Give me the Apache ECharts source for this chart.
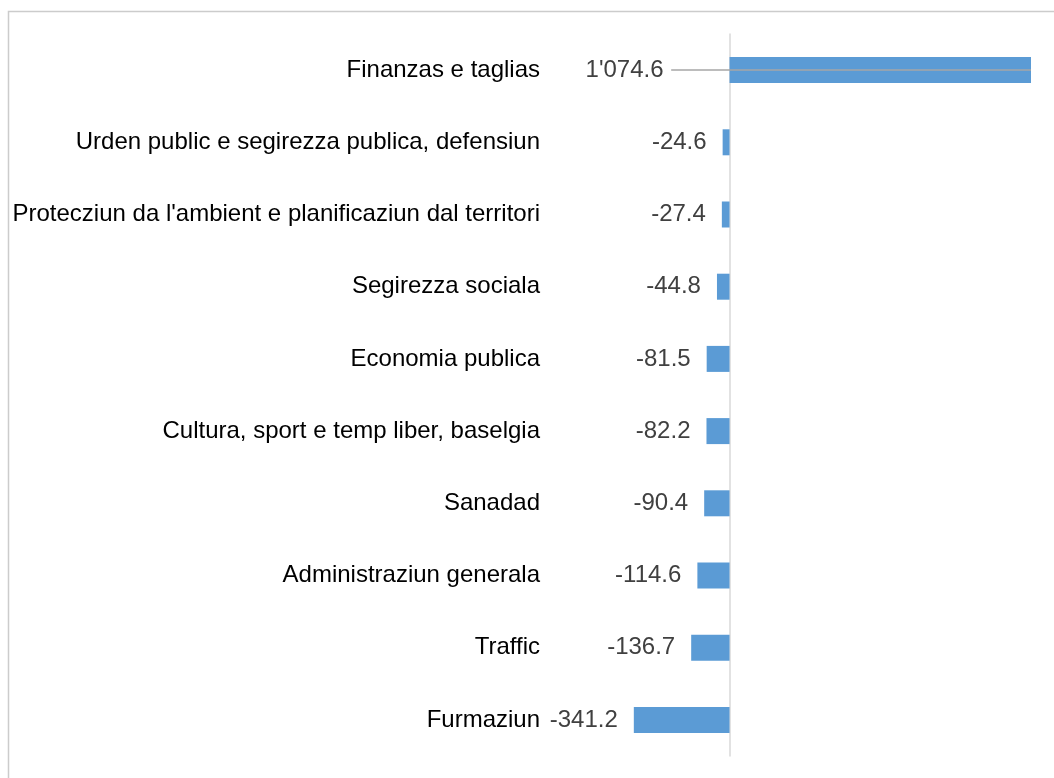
<!DOCTYPE html>
<html>
<head>
<meta charset="utf-8">
<script src="https://cdn.jsdelivr.net/npm/echarts@6/dist/echarts.min.js"></script>
<style>
html,body{margin:0;padding:0;background:#fff;}
#chart{width:1054px;height:778px;}
</style>
</head>
<body>
<div id="chart"></div>
<script>
const categories = [
  "Finanzas e taglias",
  "Urden public e segirezza publica, defensiun",
  "Protecziun da l'ambient e planificaziun dal territori",
  "Segirezza sociala",
  "Economia publica",
  "Cultura, sport e temp liber, baselgia",
  "Sanadad",
  "Administraziun generala",
  "Traffic",
  "Furmaziun"
];
const values = [1074.6, -24.6, -27.4, -44.8, -81.5, -82.2, -90.4, -114.6, -136.7, -341.2];

function fmt(v) {
  const s = Math.abs(v).toFixed(1);
  const [ip, dp] = s.split('.');
  const withSep = ip.replace(/\B(?=(\d{3})+(?!\d))/g, "'");
  return (v < 0 ? '-' : '') + withSep + '.' + dp;
}

const chart = echarts.init(document.getElementById('chart'));
const font = 'Liberation Sans, Arial, sans-serif';

const seriesData = values.map((v, i) => {
  const item = { value: v };
  if (v > 0) {
    item.label = { position: 'left', distance: 66 };
  }
  return item;
});

chart.setOption({
  animation: false,
  grid: { left: 449, right: 23, top: 34, bottom: 22, containLabel: false, outerBoundsMode: 'none' },
  graphic: [{
    type: 'rect',
    shape: { x: 8.5, y: 11.5, width: 1200, height: 900 },
    style: { fill: 'none', stroke: '#cccccc', lineWidth: 1.5 },
    silent: true,
    z: 100
  }],
  xAxis: {
    type: 'value',
    min: -1000,
    max: 1074.6,
    show: false
  },
  yAxis: {
    type: 'category',
    data: categories,
    inverse: true,
    axisLine: { show: true, onZero: true, lineStyle: { color: '#d9d9d9', width: 1.5 } },
    axisTick: { show: false },
    axisLabel: {
      margin: -91,
      color: '#000000',
      fontFamily: font,
      fontSize: 24
    }
  },
  series: [{
    type: 'bar',
    data: seriesData,
    barWidth: 26,
    itemStyle: { color: '#5b9bd5' },
    label: {
      show: true,
      position: 'left',
      distance: 16,
      color: '#404040',
      fontFamily: font,
      fontSize: 24,
      formatter: p => fmt(p.value)
    },
    markLine: {
      silent: true,
      symbol: 'none',
      label: { show: false },
      lineStyle: { color: '#a6a6a6', width: 1.5, type: 'solid' },
      data: [[
        { coord: [-208, categories[0]] },
        { coord: [values[0], categories[0]] }
      ]],
      z: 5
    }
  }]
});
</script>
</body>
</html>
